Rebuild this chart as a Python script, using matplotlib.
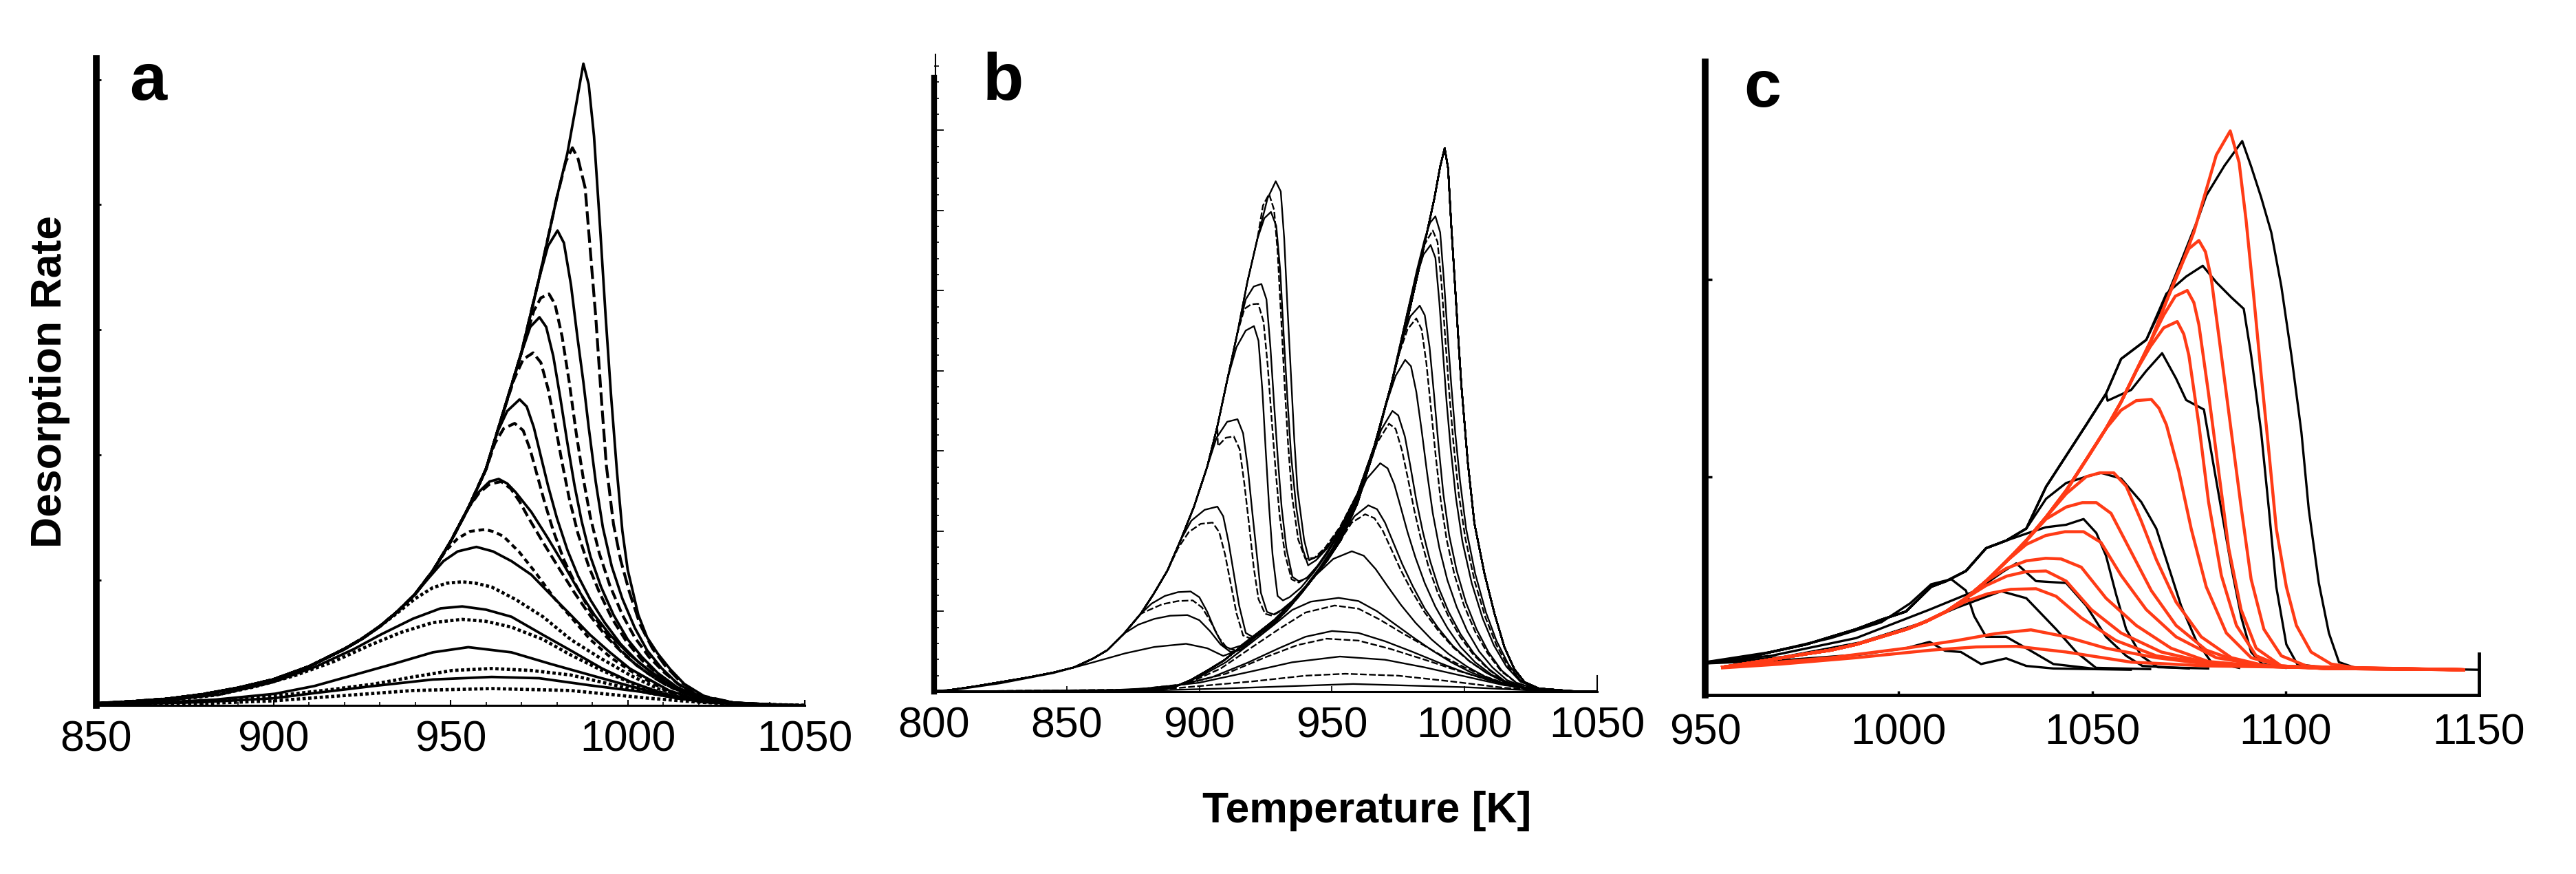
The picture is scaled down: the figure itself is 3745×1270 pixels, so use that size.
import matplotlib
matplotlib.use("Agg")
import matplotlib.pyplot as plt
import numpy as np

plt.rcParams["font.family"] = ["Liberation Sans", "DejaVu Sans"]
plt.rcParams["lines.scale_dashes"] = False

# ---------------- panel a: simulated spectra, (T [K], rate) ----------------
# common leading edge shared by the high-coverage curves
ENV_A = [(850, 0.3), (860, 0.6), (870, 1.0), (880, 1.7), (890, 2.7), (900, 4.0), (910, 6.0),
         (920, 8.7), (925, 10.3), (930, 12.2), (935, 14.5), (940, 17.2), (945, 20.8), (950, 25.3),
         (955, 30.5), (960, 36.5), (965, 45.5), (970, 54.5), (975, 66.0), (980, 78.5), (983, 85.4),
         (985.5, 93.0)]

A01 = [(987.5, 99.2), (989.0, 96.0), (990.5, 88.0), (992.2, 74.0), (993.8, 60.0), (995.3, 48.0),
       (997.0, 36.0), (998.5, 27.0), (1000.0, 21.0), (1003.0, 14.0), (1005.5, 10.5), (1008.5, 8.0),
       (1012.0, 5.6), (1016.0, 3.3), (1022.0, 1.3), (1030.0, 0.4), (1040.0, 0.1), (1050.0, 0.0)]
A02 = [(982.5, 84.0), (984.4, 86.2), (986.0, 84.5), (988.0, 80.0), (989.5, 70.0), (991.0, 60.0),
       (992.5, 48.0), (994.0, 37.0), (996.0, 28.0), (998.0, 22.5), (1000.5, 17.5), (1003.5, 12.5),
       (1007.0, 8.8), (1010.5, 6.2), (1015.0, 3.6), (1021.0, 1.5), (1030.0, 0.4), (1045.0, 0.0)]
A03 = [(977.5, 71.0), (980.2, 73.4), (982.0, 71.5), (984.0, 65.0), (985.8, 57.0), (987.5, 50.0),
       (989.0, 43.0), (991.0, 34.5), (993.0, 27.5), (995.5, 21.5), (998.5, 16.5), (1002.0, 12.0),
       (1005.5, 8.5), (1009.5, 5.8), (1014.0, 3.4), (1020.0, 1.5), (1030.0, 0.4), (1045.0, 0.0)]
A04 = [(973.5, 61.0), (975.5, 63.0), (977.8, 63.6), (979.5, 62.0), (981.5, 57.0), (983.5, 50.0),
       (985.5, 42.0), (987.5, 35.0), (989.5, 29.0), (992.0, 23.5), (995.0, 18.5), (998.5, 14.0),
       (1002.0, 10.5), (1006.0, 7.5), (1010.5, 5.0), (1015.0, 3.0), (1021.0, 1.3), (1030.0, 0.4),
       (1045.0, 0.0)]
A05 = [(972.5, 58.5), (975.1, 60.0), (977.0, 58.5), (979.0, 54.0), (981.0, 47.5), (983.0, 40.5),
       (985.0, 34.0), (987.0, 28.5), (989.5, 23.0), (992.5, 18.3), (996.0, 14.0), (1000.0, 10.2),
       (1004.0, 7.5), (1008.5, 5.0), (1014.0, 2.8), (1020.0, 1.3), (1030.0, 0.4), (1045.0, 0.0)]
A06 = [(968.0, 50.5), (970.5, 53.5), (973.3, 54.5), (975.5, 53.0), (977.5, 49.0), (979.5, 43.5),
       (981.5, 37.5), (983.5, 32.0), (986.0, 26.5), (989.0, 21.5), (992.0, 17.5), (995.5, 13.5),
       (999.5, 10.0), (1004.0, 7.0), (1009.0, 4.6), (1014.0, 2.7), (1020.0, 1.2), (1030.0, 0.4),
       (1045.0, 0.0)]
A07 = [(963.0, 42.0), (966.0, 45.5), (969.5, 47.3), (971.5, 46.2), (973.5, 43.0), (975.5, 38.5),
       (977.5, 34.0), (980.0, 29.0), (983.0, 24.0), (986.0, 20.0), (989.5, 16.3), (993.5, 12.8),
       (998.0, 9.5), (1003.0, 6.7), (1008.0, 4.5), (1014.0, 2.5), (1020.0, 1.2), (1030.0, 0.4),
       (1045.0, 0.0)]
A08 = [(962.5, 40.5), (965.0, 42.8), (968.1, 43.6), (970.5, 42.5), (972.5, 39.5), (974.5, 35.5),
       (976.5, 31.5), (979.0, 27.0), (982.0, 22.5), (985.5, 18.5), (989.0, 15.0), (993.0, 11.8),
       (997.5, 8.8), (1002.5, 6.2), (1008.0, 4.1), (1014.0, 2.3), (1020.0, 1.1), (1030.0, 0.3),
       (1045.0, 0.0)]
A09 = [(958.0, 33.0), (961.0, 34.6), (963.6, 35.0), (966.0, 34.3), (968.3, 33.0), (972.8, 29.9),
       (977.2, 26.1), (981.7, 22.0), (986.1, 17.8), (990.6, 14.0), (995.0, 10.9), (1000.6, 7.8),
       (1006.1, 5.4), (1011.7, 3.3), (1019.5, 1.4), (1030.0, 0.3), (1045.0, 0.0)]
A10 = [(958.0, 32.8), (961.0, 34.2), (964.3, 34.6), (967.0, 33.5), (969.5, 31.5), (972.0, 29.0),
       (976.0, 25.3), (980.5, 21.3), (985.0, 17.4), (989.5, 13.8), (994.0, 10.6), (999.5, 7.6),
       (1005.0, 5.2), (1011.0, 3.1), (1019.0, 1.3), (1030.0, 0.3), (1045.0, 0.0)]
A11 = [(948.5, 23.8), (952.0, 25.8), (955.5, 26.9), (959.8, 27.2), (962.5, 26.8), (965.0, 26.1),
       (969.4, 23.7), (973.9, 20.6), (979.4, 16.5), (983.9, 13.7), (989.4, 10.2), (995.0, 7.5),
       (1000.6, 5.4), (1006.1, 3.7), (1011.7, 2.1), (1019.5, 0.9), (1030.0, 0.3), (1045.0, 0.0)]
A12 = [(944.0, 19.8), (948.0, 22.3), (952.0, 23.8), (957.3, 24.5), (962.0, 23.8), (967.2, 22.3),
       (972.8, 20.2), (978.3, 17.1), (983.9, 14.0), (989.4, 10.9), (995.0, 8.2), (1000.6, 5.7),
       (1006.1, 4.0), (1011.7, 2.3), (1019.5, 0.9), (1030.0, 0.3), (1045.0, 0.0)]
A13 = [(935.0, 14.3), (940.0, 16.5), (945.0, 18.2), (949.0, 18.9), (953.3, 19.1), (957.0, 18.9),
       (961.6, 18.3), (968.3, 16.4), (976.1, 13.7), (983.9, 10.2), (991.7, 7.5), (1000.6, 4.7),
       (1008.4, 2.6), (1019.5, 0.9), (1030.0, 0.3), (1045.0, 0.0)]
A14 = [(850, 0.2), (870, 0.8), (885, 1.7), (900, 3.6), (912, 6.0), (922.7, 8.7), (930.5, 11.0),
       (939.4, 13.4), (947.2, 15.0), (953.3, 15.3), (960, 14.8), (967.2, 13.7), (976.1, 10.9),
       (983.9, 8.5), (992.8, 5.7), (1000.6, 3.7), (1009.5, 1.9), (1020, 0.6), (1035, 0.1), (1050, 0.0)]
A15 = [(850, 0.2), (870, 0.7), (883.8, 1.6), (894.9, 2.9), (906, 4.6), (917.1, 6.8), (927.2, 9.3),
       (936.1, 11.3), (945, 12.8), (953.3, 13.3), (960, 13.0), (967.2, 12.1), (976.1, 10.2),
       (983.9, 7.8), (992.8, 5.4), (1001.7, 3.3), (1010.6, 1.8), (1020, 0.6), (1035, 0.1), (1050, 0.0)]
A16 = [(850, 0.1), (870, 0.5), (883.8, 0.9), (900.5, 1.8), (911.6, 3.0), (922.7, 4.7), (933.8, 6.4),
       (945, 8.2), (955, 9.0), (967.2, 8.2), (978.3, 6.4), (989.4, 4.7), (1000.6, 3.0), (1011.7, 1.4),
       (1022, 0.5), (1035, 0.1), (1050, 0.0)]
A17 = [(850, 0.1), (870, 0.4), (890, 0.9), (906, 1.8), (917.1, 2.5), (928.3, 3.3), (939.4, 4.4),
       (950.5, 5.4), (961.6, 5.7), (972.8, 5.4), (983.9, 4.7), (995, 3.3), (1006.1, 1.9), (1017, 0.9),
       (1030, 0.3), (1050, 0.0)]
A18 = [(850, 0.1), (880, 0.5), (900, 1.1), (911.6, 1.9), (928.3, 3.0), (945, 4.0), (961.6, 4.4),
       (975, 4.2), (989.4, 3.1), (1003.9, 2.1), (1015, 1.0), (1030, 0.3), (1050, 0.0)]
A19 = [(850, 0.05), (880, 0.3), (900, 0.7), (917, 1.4), (939.4, 2.3), (961.6, 2.6), (983.9, 2.3),
       (1006.1, 1.1), (1020, 0.5), (1035, 0.1), (1050, 0.0)]

A_CURVES = [A01, A02, A03, A04, A05, A06, A07, A08, A09, A10,
            A11, A12, A13, A14, A15, A16, A17, A18, A19]
A_STYLES = ["solid", "long", "solid", "dash", "solid", "dash", "solid", "dash", "solid", "dash",
            "short", "solid", "dot", "solid", "dot", "solid", "dot", "solid", "dot"]

# ---------------- panel b: two-peak spectra ----------------
ENV_BL = [(800, 0.1), (805, 0.2), (815, 0.8), (825, 1.5), (835, 2.2), (845, 3.0), (852.7, 3.8),
          (860, 5.2), (865.3, 6.5), (871.6, 9.1), (877.9, 12.2), (882.9, 15.4), (888, 19.0),
          (893, 23.8), (898, 29.0), (903, 35.3), (906.8, 41.6), (910.6, 49.0), (914.4, 56.3),
          (918.1, 64.2), (921.9, 71.0), (925.7, 77.3)]
ENV_BH = [(800, 0.0), (850, 0.0), (870, 0.1), (880, 0.3), (890.5, 0.7), (896.7, 1.8), (903, 3.3),
          (909.3, 4.9), (915.6, 7.0), (921.9, 9.1), (928.2, 11.2), (933.2, 13.3), (938.3, 15.4),
          (943.3, 18.0), (948.3, 20.6), (953.4, 23.8), (959.7, 29.6), (966, 38.0), (972.2, 47.9),
          (978.5, 59.5), (984.8, 71.0)]
B_TOP = [(966, 38.5), (972.2, 47.9), (978.5, 58.4), (984.8, 70.0), (988.6, 77.3), (990.8, 82.3),
         (992.5, 85.2), (993.8, 82.0), (995.0, 73.0), (996.5, 63.0), (997.7, 55.0), (998.8, 48.0),
         (1000.0, 42.0), (1001.2, 36.0), (1003.7, 26.4), (1007.5, 18.5), (1011.3, 12.2),
         (1015.0, 7.0), (1018.8, 3.5), (1022.6, 1.5), (1028.0, 0.5), (1040.0, 0.1), (1050, 0.0)]

BL1 = [(928.8, 80.0), (930.7, 78.4), (932.0, 71.0), (933.2, 60.5), (934.5, 50.0), (935.8, 39.5),
       (937.0, 31.7), (939.5, 23.8), (941.4, 20.6), (944.6, 21.2), (948.3, 22.7), (953.4, 25.9),
       (959.7, 31.1)]
BL1D = [(924.0, 76.2), (926.3, 78.0), (928.2, 75.5), (929.5, 69.0), (930.8, 59.0), (932.1, 48.5),
        (933.5, 38.5), (935.0, 30.5), (937.3, 23.8), (940.0, 20.8), (943.5, 21.0), (947.5, 22.6),
        (953.0, 25.8), (959.7, 31.1)]
BL2 = [(924.5, 74.2), (927.0, 75.2), (929.0, 73.0), (930.5, 66.0), (931.8, 56.0), (933.2, 46.0),
       (934.6, 37.0), (936.5, 29.0), (938.8, 22.6), (941.0, 19.8), (944.0, 20.6), (948.3, 22.5),
       (953.4, 25.8), (959.7, 31.1)]
BL3 = [(917.5, 61.5), (920.5, 63.5), (923.4, 63.9), (925.3, 61.5), (926.8, 54.0), (928.2, 45.0),
       (929.6, 36.5), (931.0, 29.0), (932.8, 22.5), (935.1, 18.0), (937.5, 17.3), (940.5, 17.8),
       (944.5, 19.7), (948.3, 22.0), (953.4, 25.5), (959.7, 31.0)]
BL3D = [(917.0, 60.0), (919.5, 60.7), (922.2, 60.8), (924.2, 58.0), (925.8, 51.0), (927.3, 42.5),
        (928.8, 34.5), (930.3, 27.5), (932.3, 21.5), (934.8, 17.6), (937.5, 17.1), (941.0, 18.0),
        (945.0, 19.8), (949.0, 22.2), (954.0, 25.8), (959.7, 31.0)]
BL4 = [(914.0, 54.0), (917.5, 56.6), (920.6, 57.3), (922.3, 55.0), (923.8, 47.0), (925.0, 38.0),
       (926.3, 29.0), (927.6, 21.5), (929.5, 15.0), (931.5, 14.3), (934.0, 14.8), (938.3, 16.3),
       (943.3, 18.8), (948.3, 21.7), (953.4, 25.3), (959.7, 30.8)]
BL5 = [(906.5, 39.8), (910.5, 42.3), (914.4, 42.7), (916.5, 40.5), (918.3, 35.0), (920.0, 28.0),
       (921.8, 21.0), (923.2, 15.5), (925.5, 12.5), (928.0, 12.1), (931.0, 12.8), (935.0, 14.2),
       (940.0, 16.5), (945.0, 19.2), (950.0, 22.3), (955.0, 26.4), (959.7, 30.6)]
BL5D = [(907.0, 38.5), (910.0, 39.8), (913.0, 40.0), (915.2, 38.0), (917.0, 32.5), (918.8, 26.0),
        (920.5, 19.5), (922.3, 14.5), (924.8, 12.2), (927.5, 11.9), (931.0, 12.7), (935.0, 14.1),
        (940.0, 16.4), (945.0, 19.1), (950.0, 22.2), (955.0, 26.3), (959.7, 30.6)]
BL6 = [(897.0, 26.8), (902.0, 28.5), (906.8, 29.0), (909.0, 27.5), (911.0, 23.5), (913.0, 18.5),
       (915.0, 13.5), (917.5, 9.2), (920.0, 8.6), (923.0, 9.1), (928.2, 10.7), (933.2, 12.8),
       (938.3, 15.3), (943.3, 18.0), (948.3, 20.9), (953.4, 24.6), (959.7, 30.4)]
BL6D = [(892.0, 22.5), (896.0, 25.0), (900.5, 26.3), (905.0, 26.5), (907.5, 25.0), (909.7, 21.5),
        (911.8, 17.0), (914.0, 12.3), (916.5, 8.8), (919.5, 8.3), (923.0, 9.0), (928.2, 10.7),
        (933.2, 12.8), (938.3, 15.3), (943.3, 18.0), (948.3, 20.9), (953.4, 24.6), (959.7, 30.4)]
BL7 = [(882.0, 13.8), (887.0, 15.0), (892.0, 15.6), (896.7, 15.7), (900.0, 14.8), (903.0, 12.5),
       (906.0, 9.5), (909.0, 7.2), (911.8, 6.7), (915.6, 7.2), (921.9, 9.2), (928.2, 11.2),
       (933.2, 13.3), (938.3, 15.5), (943.3, 18.1), (948.3, 20.8), (953.4, 24.4), (959.7, 30.2)]
BL7D = [(880.0, 12.6), (886.0, 13.7), (892.0, 14.2), (897.5, 14.3), (901.0, 13.2), (904.5, 10.8),
        (907.5, 8.4), (910.5, 6.8), (913.5, 6.5), (917.0, 7.4), (921.9, 9.1), (928.2, 11.1),
        (933.2, 13.2), (938.3, 15.4), (943.3, 18.0), (948.3, 20.7), (953.4, 24.3), (959.7, 30.1)]
BL8 = [(877.0, 10.5), (883.0, 11.4), (889.0, 11.9), (895.5, 12.0), (900.0, 11.2), (904.0, 9.5),
       (908.0, 7.4), (911.8, 6.2), (915.6, 6.6), (921.9, 8.8), (928.2, 11.0), (933.2, 13.3),
       (938.3, 15.4), (943.3, 18.0), (948.3, 20.7), (953.4, 24.2), (959.7, 30.0)]
BL9 = [(800, 0.1), (810, 0.4), (825, 1.3), (845, 2.9), (860, 4.6), (872, 6.0), (883, 7.0),
       (895, 7.5), (903, 6.8), (909, 5.6), (915.6, 6.6), (921.9, 8.8), (928.2, 11.0), (933.2, 13.2),
       (938.3, 15.4), (943.3, 18.0), (948.3, 20.6), (953.4, 24.0), (959.7, 29.9)]

BH2 = [(982.0, 66.0), (985.0, 71.0), (987.0, 73.5), (989.0, 74.5), (990.8, 72.0), (992.3, 64.0),
       (993.6, 56.0), (995.0, 48.0), (996.5, 40.5), (998.3, 33.0), (1000.6, 25.5), (1004.0, 18.5),
       (1008.0, 12.5), (1012.0, 8.0), (1016.5, 4.3), (1021.0, 1.8), (1027.0, 0.5), (1040.0, 0.1)]
BH2D = [(981.5, 64.8), (984.5, 69.8), (988.0, 72.3), (989.8, 70.5), (991.3, 64.0), (992.7, 55.5),
        (994.2, 47.0), (995.8, 39.0), (997.8, 31.0), (1000.3, 24.0), (1003.8, 17.3), (1007.8, 11.7),
        (1012.0, 7.3), (1016.5, 3.9), (1021.0, 1.6), (1027.0, 0.5), (1040.0, 0.1)]
BH3 = [(981.5, 64.5), (984.5, 68.5), (987.2, 70.0), (989.0, 68.0), (990.5, 61.0), (991.8, 53.5),
       (993.2, 45.5), (994.8, 38.0), (996.7, 30.5), (999.2, 23.5), (1002.7, 17.0), (1006.8, 11.5),
       (1011.0, 7.3), (1015.8, 3.9), (1021.0, 1.6), (1027.0, 0.5), (1040.0, 0.1)]
BH4 = [(976.0, 54.5), (979.5, 58.8), (983.1, 60.5), (985.0, 59.0), (986.8, 54.0), (988.5, 46.5),
       (990.2, 38.5), (992.0, 31.0), (994.2, 24.5), (997.0, 19.0), (1000.5, 14.0), (1004.5, 9.8),
       (1009.0, 6.2), (1014.0, 3.3), (1019.5, 1.4), (1026.0, 0.5), (1040.0, 0.1)]
BH4D = [(974.5, 52.0), (978.5, 56.8), (981.8, 58.5), (983.8, 56.8), (985.6, 51.5), (987.3, 44.5),
        (989.1, 37.0), (991.0, 30.0), (993.3, 23.7), (996.2, 18.3), (999.8, 13.5), (1004.0, 9.4),
        (1008.7, 6.0), (1013.8, 3.2), (1019.5, 1.4), (1026.0, 0.5), (1040.0, 0.1)]
BH5 = [(970.0, 44.5), (974.0, 49.5), (977.6, 52.0), (979.8, 51.0), (981.8, 47.0), (983.8, 41.0),
       (985.8, 34.5), (988.0, 28.0), (990.5, 22.5), (993.5, 17.5), (997.0, 13.3), (1001.0, 9.5),
       (1005.5, 6.3), (1010.5, 3.8), (1016.0, 1.8), (1023.0, 0.6), (1035.0, 0.1)]
BH6 = [(964.0, 35.5), (968.5, 41.0), (972.8, 44.0), (975.0, 43.3), (977.5, 40.0), (979.5, 35.5),
       (981.8, 30.0), (984.3, 25.0), (987.0, 20.5), (990.2, 16.3), (994.0, 12.5), (998.5, 9.0),
       (1003.5, 6.0), (1009.0, 3.6), (1015.0, 1.7), (1022.0, 0.6), (1035.0, 0.1)]
BH6D = [(962.5, 33.5), (967.0, 39.0), (971.5, 42.0), (974.0, 41.2), (976.4, 37.8), (978.6, 33.5),
        (981.0, 28.5), (983.6, 23.8), (986.4, 19.6), (989.8, 15.6), (993.7, 12.0), (998.3, 8.6),
        (1003.3, 5.8), (1009.0, 3.5), (1015.0, 1.6), (1022.0, 0.6), (1035.0, 0.1)]
BH7 = [(958.0, 28.5), (963.0, 33.3), (968.2, 35.8), (971.0, 35.0), (973.5, 32.5), (976.0, 28.8),
       (978.5, 25.0), (981.5, 21.0), (985.0, 17.0), (989.0, 13.3), (993.5, 10.0), (998.5, 7.0),
       (1004.0, 4.6), (1010.0, 2.7), (1017.0, 1.2), (1025.0, 0.4), (1035.0, 0.1)]
BH8 = [(953.0, 24.0), (958.5, 27.5), (963.7, 29.2), (967.0, 28.6), (970.0, 26.5), (973.0, 23.5),
       (976.5, 20.0), (980.5, 16.5), (985.0, 13.0), (990.0, 10.0), (995.5, 7.2), (1001.5, 4.9),
       (1008.0, 3.0), (1015.0, 1.5), (1023.0, 0.5), (1035.0, 0.1)]
BH8D = [(952.0, 23.0), (957.5, 26.5), (962.5, 27.8), (966.0, 27.2), (969.2, 25.2), (972.4, 22.3),
        (976.0, 19.0), (980.2, 15.7), (985.0, 12.4), (990.2, 9.5), (995.8, 6.9), (1002.0, 4.7),
        (1008.5, 2.9), (1015.5, 1.4), (1023.0, 0.5), (1035.0, 0.1)]
BH9 = [(944.0, 18.3), (950.5, 20.8), (957.5, 22.0), (962.0, 21.3), (966.5, 19.2), (971.0, 16.5),
       (976.0, 13.6), (981.5, 10.8), (987.5, 8.2), (994.0, 5.9), (1001.0, 3.9), (1008.0, 2.3),
       (1016.0, 1.1), (1025.0, 0.3), (1035.0, 0.1)]
BH10 = [(800, 0.0), (880, 0.3), (890, 0.7), (900, 2.3), (910, 4.6), (920, 7.8), (928.2, 10.5),
        (935, 12.8), (942, 14.1), (952.5, 14.7), (960, 14.2), (967, 12.6), (974, 10.5), (981, 8.4),
        (988, 6.4), (995, 4.6), (1002, 3.1), (1010, 1.8), (1018, 0.8), (1028, 0.2), (1040, 0.0)]
BH10D = [(800, 0.0), (880, 0.3), (895, 1.2), (908, 3.6), (920, 7.0), (930, 9.8), (940, 12.4),
         (951, 13.5), (960, 13.0), (968, 11.3), (976, 9.3), (984, 7.4), (992, 5.5), (1000, 3.8),
         (1009, 2.2), (1018, 0.9), (1030, 0.2), (1040, 0.0)]
BH11 = [(800, 0.0), (870, 0.2), (890, 0.8), (905, 2.3), (918, 4.5), (930, 6.8), (940, 8.6),
        (950, 9.5), (960, 9.2), (970, 7.9), (980, 6.3), (990, 4.6), (1000, 3.0), (1010, 1.7),
        (1020, 0.7), (1032, 0.2), (1045, 0.0)]
BH11D = [(800, 0.0), (875, 0.3), (895, 1.2), (910, 2.8), (925, 5.4), (937, 7.3), (948, 8.3),
         (960, 8.0), (972, 6.7), (985, 5.0), (998, 3.2), (1010, 1.7), (1022, 0.6), (1040, 0.0)]
BH12 = [(800, 0.0), (860, 0.1), (880, 0.5), (900, 1.4), (920, 3.2), (935, 4.6), (953, 5.5),
        (970, 5.0), (985, 3.8), (1000, 2.4), (1015, 1.0), (1030, 0.3), (1045, 0.0)]
BH13 = [(800, 0.0), (860, 0.1), (890, 0.5), (920, 1.6), (940, 2.5), (955, 2.8), (975, 2.5),
        (995, 1.6), (1015, 0.6), (1035, 0.1), (1045, 0.0)]
BH14 = [(800, 0.0), (870, 0.05), (910, 0.5), (958, 1.2), (1000, 0.7), (1030, 0.1), (1045, 0.0)]

B_LOW = [BL1, BL1D, BL2, BL3, BL3D, BL4, BL5, BL5D, BL6, BL6D, BL7, BL7D, BL8, BL9]
B_LOW_STYLES = ["solid", "dash", "solid", "solid", "dash", "solid", "solid", "dash",
                "solid", "dash", "solid", "dash", "solid", "solid"]
B_HIGH = [BH2, BH2D, BH3, BH4, BH4D, BH5, BH6, BH6D, BH7, BH8, BH8D, BH9,
          BH10, BH10D, BH11, BH11D, BH12, BH13, BH14]
B_HIGH_STYLES = ["solid", "dash", "solid", "solid", "dash", "solid", "solid", "dash", "solid",
                 "solid", "dash", "solid", "solid", "dash", "solid", "dash", "solid", "dash", "solid"]

# ---------------- panel c: model (red) vs experiment (black) ----------------
ENV_CR = [(954.5, 4.4), (963.0, 5.2), (970.0, 5.9), (976.0, 6.5), (982.5, 7.1), (989.0, 8.0),
          (995.5, 9.2), (1002.0, 10.4), (1007.0, 11.6), (1012.3, 13.2), (1017.4, 15.3),
          (1022.6, 18.0), (1027.8, 21.1), (1033.0, 24.4), (1038.1, 28.1), (1043.3, 32.3),
          (1048.5, 37.2), (1053.6, 42.1), (1057.5, 46.3), (1061.4, 51.2), (1065.3, 56.1),
          (1069.2, 62.2), (1073.0, 67.7), (1076.3, 73.1), (1079.5, 79.8), (1082.1, 85.3)]
CR01 = [(1085.7, 89.1), (1088.0, 84.1), (1089.8, 75.0), (1091.8, 62.8), (1093.7, 50.6),
        (1095.7, 38.4), (1097.6, 26.3), (1100.2, 17.1), (1102.8, 11.0), (1106.6, 6.8),
        (1111.8, 4.9), (1118.3, 4.3), (1146.0, 4.0)]
CR02 = [(1072.0, 66.5), (1075.0, 70.5), (1077.6, 71.8), (1079.3, 70.0), (1080.8, 65.8),
        (1083.4, 53.7), (1086.0, 41.5), (1088.6, 29.3), (1091.1, 18.3), (1094.4, 10.4),
        (1098.9, 6.2), (1105.4, 4.6), (1115.0, 4.2), (1146.0, 4.0)]
CR03 = [(1068.5, 60.0), (1071.5, 63.0), (1074.6, 63.9), (1076.3, 62.0), (1077.6, 58.5),
        (1080.1, 47.6), (1082.7, 35.4), (1085.3, 23.2), (1088.5, 13.5), (1092.4, 7.4),
        (1098.9, 4.6), (1110.0, 4.2), (1146.0, 4.0)]
CR04 = [(1065.0, 55.0), (1068.5, 58.0), (1072.0, 59.0), (1073.7, 57.0), (1075.0, 53.7),
        (1077.6, 42.7), (1080.1, 30.5), (1083.4, 18.9), (1087.3, 11.0), (1092.4, 6.2),
        (1098.9, 4.6), (1110.0, 4.2), (1146.0, 4.0)]
CR05 = [(1057.5, 45.0), (1061.4, 46.5), (1065.3, 46.7), (1067.3, 45.3), (1069.2, 42.7),
        (1072.4, 35.4), (1075.6, 26.3), (1079.5, 17.1), (1084.7, 9.8), (1091.1, 5.9),
        (1098.9, 4.6), (1110.0, 4.2), (1146.0, 4.0)]
CR06 = [(1043.3, 31.8), (1048.5, 34.5), (1052.0, 35.1), (1055.6, 35.1), (1058.8, 33.0),
        (1062.7, 27.5), (1066.6, 21.4), (1071.7, 14.7), (1078.2, 9.2), (1086.0, 5.9),
        (1095.0, 4.6), (1110.0, 4.2), (1146.0, 4.0)]
CR07 = [(1038.1, 27.8), (1043.3, 29.7), (1047.5, 30.4), (1051.1, 30.4), (1054.9, 28.7),
        (1060.1, 22.6), (1065.3, 16.5), (1071.7, 11.0), (1079.5, 7.1), (1089.8, 4.9),
        (1100.0, 4.4), (1146.0, 4.0)]
CR08 = [(1033.0, 23.8), (1038.0, 25.2), (1043.0, 25.8), (1047.8, 25.8), (1052.3, 24.1),
        (1057.5, 18.9), (1064.0, 13.5), (1071.7, 9.2), (1082.1, 5.9), (1095.0, 4.6), (1146.0, 4.0)]
CR09 = [(1027.8, 20.0), (1033.0, 21.2), (1038.0, 21.6), (1042.0, 21.5), (1047.2, 20.2),
        (1053.6, 15.3), (1061.4, 11.0), (1070.4, 7.4), (1080.0, 5.3), (1095.0, 4.5), (1146.0, 4.0)]
CR10 = [(1022.6, 17.3), (1028.0, 18.8), (1033.0, 19.5), (1038.1, 19.6), (1043.3, 18.0),
        (1049.8, 13.5), (1057.5, 9.8), (1067.9, 6.8), (1080.0, 5.1), (1095.0, 4.5), (1146.0, 4.0)]
CR11 = [(1017.4, 14.8), (1023.0, 16.0), (1029.0, 16.7), (1035.5, 16.8), (1040.7, 15.6),
        (1047.2, 12.2), (1056.2, 8.6), (1066.6, 6.2), (1080.0, 5.0), (1095.0, 4.5), (1146.0, 4.0)]
CR12 = [(954.5, 4.4), (963.1, 4.9), (982.5, 5.9), (1001.9, 7.4), (1014.9, 8.6), (1025.0, 9.7),
        (1034.2, 10.3), (1043.3, 9.2), (1053.6, 7.4), (1066.6, 5.9), (1080.0, 4.9), (1100.0, 4.4),
        (1146.0, 4.0)]
CR13 = [(954.5, 4.3), (969.6, 4.9), (989.0, 5.9), (1008.4, 7.1), (1020.0, 7.6), (1030.4, 7.7),
        (1043.3, 6.8), (1060.1, 5.2), (1080.0, 4.6), (1146.0, 4.0)]
C_RED = [CR01, CR02, CR03, CR04, CR05, CR06, CR07, CR08, CR09, CR10, CR11, CR12, CR13]

ENV_CK = [(950.0, 5.2), (958.0, 5.5), (967.0, 6.8), (976.1, 8.0), (982.5, 9.2), (989.0, 10.4),
          (995.5, 11.9), (1001.9, 13.2), (1008.4, 17.1), (1012.3, 18.0), (1017.4, 19.6),
          (1022.6, 23.2), (1027.8, 24.4), (1033.0, 26.3), (1038.1, 32.9), (1043.3, 37.8),
          (1048.5, 42.7), (1053.6, 47.6), (1057.5, 53.1), (1064.0, 56.1), (1069.2, 62.8),
          (1073.0, 68.5), (1077.6, 75.6), (1079.5, 78.9), (1084.2, 83.6)]
CK01 = [(1088.8, 87.5), (1091.1, 83.5), (1093.7, 78.6), (1096.3, 73.1), (1098.9, 64.6),
        (1101.5, 53.7), (1104.1, 41.5), (1106.0, 29.3), (1108.6, 17.7), (1111.2, 9.8),
        (1113.8, 5.2), (1118.0, 4.3), (1150.0, 4.0)]
CK02 = [(1069.2, 63.4), (1074.3, 66.1), (1078.6, 67.8), (1082.1, 65.2), (1086.0, 62.8),
        (1089.2, 61.0), (1091.1, 53.7), (1093.7, 41.5), (1095.7, 29.3), (1097.6, 17.1),
        (1100.2, 8.0), (1103.0, 4.9), (1110.0, 4.3)]
CK03 = [(1054.0, 46.5), (1060.1, 48.2), (1064.0, 51.2), (1068.1, 54.0), (1071.7, 50.0),
        (1074.3, 46.6), (1078.9, 45.1), (1080.8, 38.4), (1083.4, 29.3), (1086.0, 20.2),
        (1088.6, 12.2), (1091.1, 6.8), (1094.0, 4.9), (1100.0, 4.3)]
CK04 = [(1038.1, 31.0), (1043.3, 33.5), (1048.5, 34.5), (1052.3, 35.1), (1057.5, 34.2),
        (1062.7, 30.5), (1066.6, 26.3), (1069.8, 20.2), (1073.0, 14.1), (1076.9, 8.6),
        (1080.8, 5.2), (1088.0, 4.3)]
CK05 = [(1033.0, 25.5), (1038.0, 26.5), (1043.3, 26.9), (1047.8, 27.8), (1051.1, 25.6),
        (1053.6, 22.0), (1056.2, 15.9), (1058.8, 10.4), (1062.7, 6.2), (1067.0, 4.4), (1080.0, 4.2)]
CK06 = [(950.0, 5.2), (967.0, 6.2), (989.0, 9.0), (1008.0, 13.5), (1020.0, 16.5), (1027.0, 19.5),
        (1030.4, 20.8), (1035.5, 18.0), (1043.3, 17.7), (1048.5, 14.1), (1053.6, 9.2),
        (1058.8, 6.2), (1063.0, 4.6), (1075.0, 4.2)]
CK07 = [(950.0, 5.0), (970.0, 6.0), (990.0, 8.3), (1005.0, 11.2), (1015.0, 13.8), (1026.5, 16.4),
        (1033.0, 15.3), (1040.7, 10.4), (1045.9, 6.8), (1051.0, 4.3), (1065.0, 4.1)]
CK08 = [(950.0, 5.2), (967.0, 6.8), (982.5, 9.0), (995.5, 11.5), (1003.0, 14.5), (1008.4, 17.5),
        (1013.6, 18.3), (1017.4, 16.5), (1019.5, 12.5), (1022.6, 9.2), (1027.8, 9.2),
        (1033.0, 7.4), (1040.0, 4.9), (1050.0, 4.2)]
CK09 = [(950.0, 5.0), (970.0, 5.5), (990.0, 6.4), (1001.9, 7.4), (1008.0, 8.4), (1012.0, 7.0),
        (1016.1, 6.8), (1021.3, 4.9), (1027.8, 5.8), (1033.0, 4.6), (1040.0, 4.2), (1060.0, 4.0)]
C_BLACK = [CK01, CK02, CK03, CK04, CK05, CK06, CK07, CK08, CK09]

TICKS_A = [850, 900, 950, 1000, 1050]
TICKS_B = [800, 850, 900, 950, 1000, 1050]
TICKS_C = [950, 1000, 1050, 1100, 1150]

RED = "#ff3b16"
W, H = 3745, 1270
LS = {"solid": "-", "long": (0, (14, 5)), "dash": (0, (10, 4.5)),
      "short": (0, (6, 4)), "dot": (0, (3.4, 2.6))}
LS_B = {"solid": "-", "dash": (0, (7, 2.5))}


def build(own, prefix=(), suffix=()):
    pts = [p for p in prefix if p[0] < own[0][0]] + list(own) + \
          [p for p in suffix if p[0] > own[-1][0]]
    t, y = zip(*pts)
    return np.array(t), np.array(y)


def frame(left, right, bottom, top):
    return fig.add_axes([left / W, 1 - bottom / H, (right - left) / W, (bottom - top) / H])


fig = plt.figure(figsize=(W / 100, H / 100), dpi=100)

# ---- a ----
ax = frame(140, 1170, 1025, 85)
for pts, st in zip(A_CURVES, A_STYLES):
    t, y = build(pts, ENV_A)
    lw = 2.7 if st == "solid" else (3.4 if st == "dot" else 3.0)
    ax.plot(t, y, color="black", lw=lw, linestyle=LS[st], solid_capstyle="butt")
ax.set_xlim(850, 1050)
ax.set_ylim(0, 100)
ax.set_xticks(TICKS_A)
ax.set_xticks(np.arange(850, 1051, 10), minor=True)
ax.set_yticks(np.arange(0, 100, 19.35))
ax.set_yticks(np.arange(0, 100, 3.87), minor=True)
ax.tick_params(axis="x", which="major", direction="in", length=6, width=1.5,
               labelsize=45, pad=15)
ax.tick_params(axis="x", which="minor", direction="in", length=3.5, width=1.2)
ax.tick_params(axis="y", which="major", direction="in", length=5, width=2, labelleft=False)
ax.tick_params(axis="y", which="minor", direction="in", length=2, width=1.5)
ax.spines["left"].set_linewidth(7)
ax.spines["bottom"].set_linewidth(2.2)
for s in ("top", "right"):
    ax.spines[s].set_visible(False)
ax.patch.set_alpha(0)

# ---- b ----
bx = frame(1358, 2322, 1005, 78)
for pts, st in zip(B_LOW, B_LOW_STYLES):
    t, y = build(pts, ENV_BL, B_TOP)
    bx.plot(t, y, color="black", lw=1.7, linestyle=LS_B[st])
for pts, st in zip(B_HIGH, B_HIGH_STYLES):
    t, y = build(pts, ENV_BH)
    bx.plot(t, y, color="black", lw=1.7, linestyle=LS_B[st])
bx.set_xlim(800, 1050)
bx.set_ylim(0, 100)
bx.set_xticks(TICKS_B)
bx.set_yticks(np.arange(0, 100.5, 12.57))
bx.set_yticks(np.arange(0, 100.5, 2.514), minor=True)
bx.tick_params(axis="x", which="major", direction="in", length=6, width=1.2,
               labelsize=45, pad=15)
bx.tick_params(axis="y", which="major", direction="in", length=10, width=1.3, labelleft=False)
bx.tick_params(axis="y", which="minor", direction="in", length=5, width=1.2)
bx.spines["left"].set_linewidth(6)
bx.spines["left"].set_bounds(0, 96.2)
bx.axvline(800.4, ymin=0.962, ymax=1.0, color="black", lw=1.5)
bx.spines["bottom"].set_linewidth(2.2)
bx.spines["right"].set_bounds(0, 2.5)
bx.spines["right"].set_linewidth(1.5)
bx.spines["top"].set_visible(False)
bx.patch.set_alpha(0)

# ---- c ----
cx = frame(2479, 3604, 1010, 90)
for pts in C_BLACK:
    t, y = build(pts, ENV_CK)
    cx.plot(t, y, color="black", lw=2.4)
for pts in C_RED:
    t, y = build(pts, ENV_CR)
    cx.plot(t, y, color=RED, lw=3.2)
cx.set_xlim(950, 1150)
cx.set_ylim(0, 100)
cx.set_xticks(TICKS_C)
cx.set_yticks([34.5, 65.7])
cx.tick_params(axis="x", direction="in", length=4, width=2.5, labelsize=45, pad=18)
cx.tick_params(axis="y", direction="in", length=7, width=2.5, labelleft=False)
cx.spines["left"].set_linewidth(7)
cx.spines["bottom"].set_linewidth(3.5)
cx.spines["right"].set_bounds(0, 6.5)
cx.spines["right"].set_linewidth(3.5)
cx.spines["top"].set_visible(False)
cx.patch.set_alpha(0)

# ---- texts ----
fig.text(72 / W, 1 - 555 / H, "Desorption Rate", rotation=90, ha="center", va="center",
         fontsize=45, fontweight="bold")
fig.text(1987 / W, 1 - 1178 / H, "Temperature [K]", ha="center", va="center",
         fontsize=45, fontweight="bold")
for label, x, yb in (("a", 215, 145), ("b", 1458, 145), ("c", 2562, 155)):
    fig.text(x / W, 1 - yb / H, label, ha="center", va="baseline", fontsize=70, fontweight="bold")

fig.savefig("out.png", dpi=100, facecolor="white")
